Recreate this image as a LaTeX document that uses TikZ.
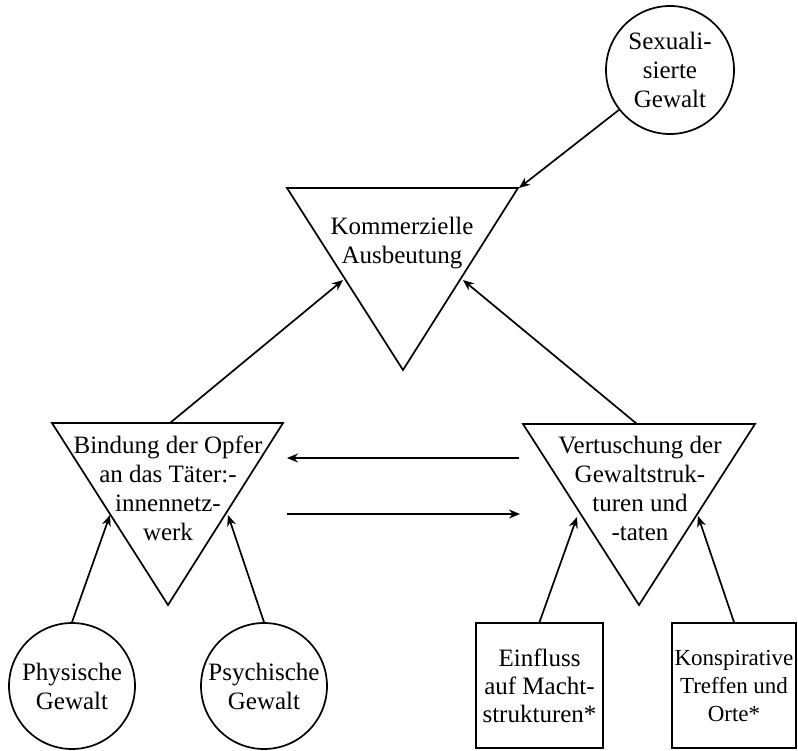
\documentclass[tikz,border=0pt]{standalone}
\usepackage{fontspec}
\setmainfont{Liberation Serif}
\usetikzlibrary{arrows.meta}
\begin{document}
\begin{tikzpicture}[x=1pt,y=-1pt,
  line width=1.7pt,
  txt/.style={align=center,font=\fontsize{25}{29}\selectfont,inner sep=0pt},
  circ/.style={draw,circle,inner sep=0pt,align=center,font=\fontsize{25}{29}\selectfont},
  boxn/.style={draw,rectangle,inner sep=0pt,align=center,font=\fontsize{25}{28}\selectfont},
  tri/.style={draw,line join=miter},
  arr/.style={-{Stealth[length=11pt,width=9pt]}}]
\useasboundingbox (0,0) rectangle (798,750);

% triangles
\draw[tri] (287,188) -- (518,188) -- (403,370) -- cycle;
\draw[tri] (52,423) -- (283,423) -- (168,605) -- cycle;
\draw[tri] (523,424) -- (755,424) -- (639,605) -- cycle;

% triangle texts
\node[txt] (komm) at (402,243) {Kommerzielle\\Ausbeutung};
\node[txt] (bind) at (168,488) {Bindung der Opfer\\an das Täter:-\\innennetz-\\werk};
\node[txt] (vert) at (640,488) {Vertuschung der\\Gewaltstruk-\\turen und\\-taten};

% circles
\node[circ,minimum size=128pt] (sex) at (670,70) {Sexuali-\\sierte\\Gewalt};
\node[circ,minimum size=126pt] (phys) at (72,686) {Physische\\Gewalt};
\node[circ,minimum size=126pt] (psych) at (264,686) {Psychische\\Gewalt};

% boxes
\node[boxn,minimum width=127pt,minimum height=125pt] (einf) at (539.5,685.5) {Einfluss\\auf Macht-\\strukturen*};
\node[boxn,minimum width=124pt,minimum height=125pt,font=\fontsize{23}{28}\selectfont] (kons) at (734,685.5) {Konspirative\\Treffen und\\Orte*};

% connector endpoints
\coordinate (kTR) at (519,188);
\coordinate (kL) at (343,280);
\coordinate (kR) at (463,280);
\coordinate (bTop) at (170,423);
\coordinate (vTop) at (637,424);
\coordinate (bL) at (110,515);
\coordinate (bR) at (228,515);
\coordinate (vL) at (577,517);
\coordinate (vR) at (698,516);
\coordinate (hAr) at (519,458);
\coordinate (hAl) at (287,458);
\coordinate (hBl) at (287,514);
\coordinate (hBr) at (520,514);

% connectors
\draw[arr] (sex) -- (kTR);
\draw[arr] (bTop) -- (kL);
\draw[arr] (vTop) -- (kR);
\draw[arr] (hAr) -- (hAl);
\draw[arr] (hBl) -- (hBr);
\draw[arr] (phys.north) -- (bL);
\draw[arr] (psych.north) -- (bR);
\draw[arr] (einf.north) -- (vL);
\draw[arr] (kons.north) -- (vR);
\end{tikzpicture}
\end{document}
